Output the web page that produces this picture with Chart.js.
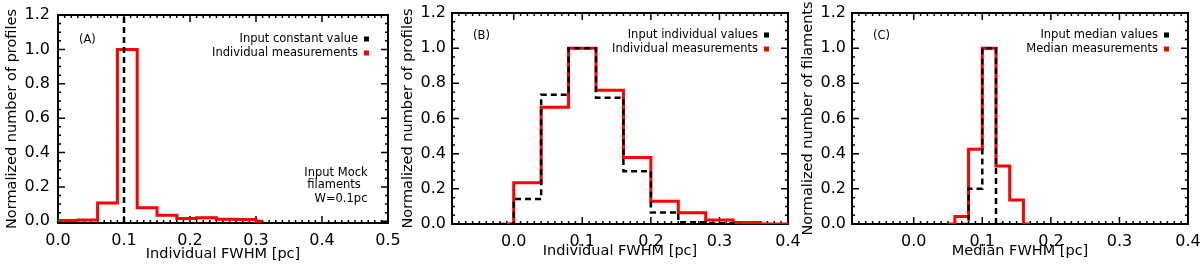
<!DOCTYPE html>
<html>
<head>
<meta charset="utf-8">
<script src="https://cdn.jsdelivr.net/npm/chart.js@4"></script>
<style>
  body { margin: 0; background: #fff; }
  .panel { position: absolute; top: 0; width: 400px; height: 272px; }
</style>
</head>
<body>
<div class="panel" style="left:0"><canvas id="panelA" width="400" height="272"></canvas></div>
<div class="panel" style="left:400px"><canvas id="panelB" width="400" height="272"></canvas></div>
<div class="panel" style="left:800px"><canvas id="panelC" width="400" height="272"></canvas></div>
<script>
// (A) constant input width, histogram of individual measurements
const edgesA = [0.0, 0.03, 0.06, 0.09, 0.12, 0.15, 0.18, 0.21, 0.24, 0.27, 0.30, 0.31];
const measuredA = [0.004, 0.008, 0.107, 1.0, 0.078, 0.035, 0.016, 0.021, 0.012, 0.010, 0.0];
const inputWidthA = 0.1;

// (B) input individual values vs individual measurements
const edgesMeasB = [-0.01, 0.0, 0.04, 0.08, 0.12, 0.16, 0.20, 0.24, 0.28, 0.32, 0.36, 0.40];
const measuredB = [0.0, 0.234, 0.664, 1.0, 0.76, 0.378, 0.13, 0.064, 0.023, 0.009, 0.0];
const edgesInB = [-0.02, 0.0, 0.04, 0.08, 0.12, 0.16, 0.20, 0.24, 0.28, 0.32, 0.33];
const inputB = [0.0, 0.142, 0.735, 1.0, 0.718, 0.30, 0.066, 0.01, 0.004, 0.0];

// (C) median values per filament
const edgesMeasC = [0.05, 0.06, 0.08, 0.10, 0.12, 0.14, 0.16, 0.17];
const measuredC = [0.0, 0.042, 0.425, 1.0, 0.33, 0.136, 0.0];
const edgesInC = [0.07, 0.08, 0.10, 0.12, 0.13];
const inputC = [0.0, 0.2, 1.0, 0.0];

const yTickStep = 0.2;
const xTickStep = 0.1;

const FONT = 'DejaVu Sans';

// histogram bins -> stepped line points (left edge carries the bin value)
function toSteps(edges, vals) {
  const pts = vals.map((v, i) => ({x: edges[i], y: v}));
  pts.push({x: edges[edges.length - 1], y: vals[vals.length - 1]});
  return pts;
}

// IDL style box: frame + inward ticks on all four sides
const idlFrame = {
  id: 'idlFrame',
  beforeDatasetsDraw(chart) {
    const {ctx, chartArea: a, scales: {x, y}} = chart;
    ctx.save();
    ctx.strokeStyle = '#000';
    ctx.lineWidth = 1.5;
    ctx.beginPath();
    for (let v = Math.ceil(x.min / 0.01 - 1e-6) * 0.01; v <= x.max + 1e-9; v += 0.01) {
      const px = x.getPixelForValue(v);
      ctx.moveTo(px, a.bottom); ctx.lineTo(px, a.bottom - 3);
      ctx.moveTo(px, a.top); ctx.lineTo(px, a.top + 3);
    }
    for (let v = Math.ceil(y.min / 0.05 - 1e-6) * 0.05; v <= y.max + 1e-9; v += 0.05) {
      const py = y.getPixelForValue(v);
      ctx.moveTo(a.left, py); ctx.lineTo(a.left + 3, py);
      ctx.moveTo(a.right, py); ctx.lineTo(a.right - 3, py);
    }
    x.ticks.forEach(t => {
      const px = x.getPixelForValue(t.value);
      ctx.moveTo(px, a.bottom); ctx.lineTo(px, a.bottom - 7);
      ctx.moveTo(px, a.top); ctx.lineTo(px, a.top + 7);
    });
    y.ticks.forEach(t => {
      const py = y.getPixelForValue(t.value);
      ctx.moveTo(a.left, py); ctx.lineTo(a.left + 7, py);
      ctx.moveTo(a.right, py); ctx.lineTo(a.right - 7, py);
    });
    ctx.stroke();
    ctx.lineWidth = 2;
    ctx.strokeRect(a.left, a.top, a.right - a.left, a.bottom - a.top);
    ctx.restore();
  },
  afterDraw(chart, args, opts) {
    const {ctx, chartArea: a} = chart;
    const top = a.top + opts.dy;
    ctx.save();
    ctx.font = '11.5px "' + FONT + '"';
    ctx.fillStyle = '#000';
    ctx.textBaseline = 'middle';
    ctx.textAlign = 'left';
    ctx.fillText(opts.tag, a.left + 21, top + 23);
    ctx.textAlign = 'right';
    opts.legend.forEach((item, i) => {
      const yy = top + 22 + i * 14;
      ctx.fillStyle = '#000';
      ctx.fillText(item.text, a.right - 30, yy);
      ctx.fillStyle = item.color;
      ctx.fillRect(a.right - 24, yy - 2.5, 5, 5);
    });
    ctx.fillStyle = '#000';
    ctx.textAlign = 'center';
    (opts.notes || []).forEach(n => ctx.fillText(n.text, a.right + n.dx, a.bottom + n.dy));
    ctx.restore();
  }
};

function makePanel(id, p) {
  new Chart(document.getElementById(id), {
    type: 'line',
    data: {datasets: p.datasets},
    plugins: [idlFrame],
    options: {
      responsive: false,
      animation: false,
      devicePixelRatio: 1,
      layout: {padding: {top: p.top, right: 12, left: 0, bottom: 0}},
      elements: {point: {radius: 0}, line: {tension: 0}},
      plugins: {
        legend: {display: false},
        tooltip: {enabled: false},
        idlFrame: {tag: p.tag, legend: p.legend, notes: p.notes, dy: p.legendDy}
      },
      scales: {
        x: {
          type: 'linear',
          min: p.xMin,
          max: p.xMax,
          grid: {display: false, drawTicks: false},
          border: {display: false},
          ticks: {
            stepSize: xTickStep, includeBounds: false, padding: 8, maxRotation: 0, autoSkip: false,
            color: '#000', font: {family: FONT, size: 16},
            callback: v => v.toFixed(1)
          },
          title: {display: true, text: p.xTitle, color: '#000', font: {family: FONT, size: 14.5}, padding: {top: 0, bottom: p.xTitlePad}},
          afterFit: s => { s.height = p.xHeight; s.paddingLeft = 0; s.paddingRight = 0; }
        },
        y: {
          min: p.yMin,
          max: 1.2,
          grid: {display: false, drawTicks: false},
          border: {display: false},
          ticks: {
            stepSize: yTickStep, includeBounds: false, padding: p.yTickPad,
            color: '#000', font: {family: FONT, size: 16},
            callback: v => v.toFixed(1)
          },
          title: {display: true, text: p.yTitle, color: '#000', font: {family: FONT, size: 14.5}, padding: {top: p.yTitlePad, bottom: 0}},
          afterFit: s => { s.width = p.yWidth; s.paddingTop = 0; s.paddingBottom = 0; }
        }
      }
    }
  });
}

const dashed = {borderColor: '#000', borderWidth: 2.5, borderDash: [6, 4], fill: false};
const solidRed = {borderColor: '#ff0000', borderWidth: 3, fill: false, stepped: true};

makePanel('panelA', {
  tag: '(A)', top: 15, xHeight: 49, yWidth: 58, yTickPad: 8, yTitlePad: 4, xTitlePad: 9, legendDy: 2,
  xMin: 0, xMax: 0.5, yMin: -0.01,
  xTitle: 'Individual FWHM [pc]', yTitle: 'Normalized number of profiles',
  legend: [{text: 'Input constant value', color: '#000'}, {text: 'Individual measurements', color: '#ff0000'}],
  notes: [{text: 'Input Mock', dx: -52, dy: -50}, {text: 'filaments', dx: -54, dy: -38}, {text: 'W=0.1pc', dx: -47, dy: -24}],
  datasets: [
    Object.assign({data: [{x: inputWidthA, y: -0.01}, {x: inputWidthA, y: 1.2}]}, dashed),
    Object.assign({data: toSteps(edgesA, measuredA)}, solidRed)
  ]
});

makePanel('panelB', {
  tag: '(B)', top: 13, xHeight: 48, yWidth: 52, yTickPad: 6, yTitlePad: 0, xTitlePad: 12, legendDy: 0,
  xMin: -0.09, xMax: 0.4, yMin: 0,
  xTitle: 'Individual FWHM [pc]', yTitle: 'Normalized number of profiles',
  legend: [{text: 'Input individual values', color: '#000'}, {text: 'Individual measurements', color: '#ff0000'}],
  datasets: [
    Object.assign({data: toSteps(edgesInB, inputB), stepped: true}, dashed),
    Object.assign({data: toSteps(edgesMeasB, measuredB)}, solidRed)
  ]
});

makePanel('panelC', {
  tag: '(C)', top: 13, xHeight: 48, yWidth: 52, yTickPad: 6, yTitlePad: 0, xTitlePad: 12, legendDy: 0,
  xMin: -0.09, xMax: 0.4, yMin: 0,
  xTitle: 'Median FWHM [pc]', yTitle: 'Normalized number of filaments',
  legend: [{text: 'Input median values', color: '#000'}, {text: 'Median measurements', color: '#ff0000'}],
  datasets: [
    Object.assign({data: toSteps(edgesInC, inputC), stepped: true}, dashed),
    Object.assign({data: toSteps(edgesMeasC, measuredC)}, solidRed)
  ]
});
</script>
</body>
</html>
